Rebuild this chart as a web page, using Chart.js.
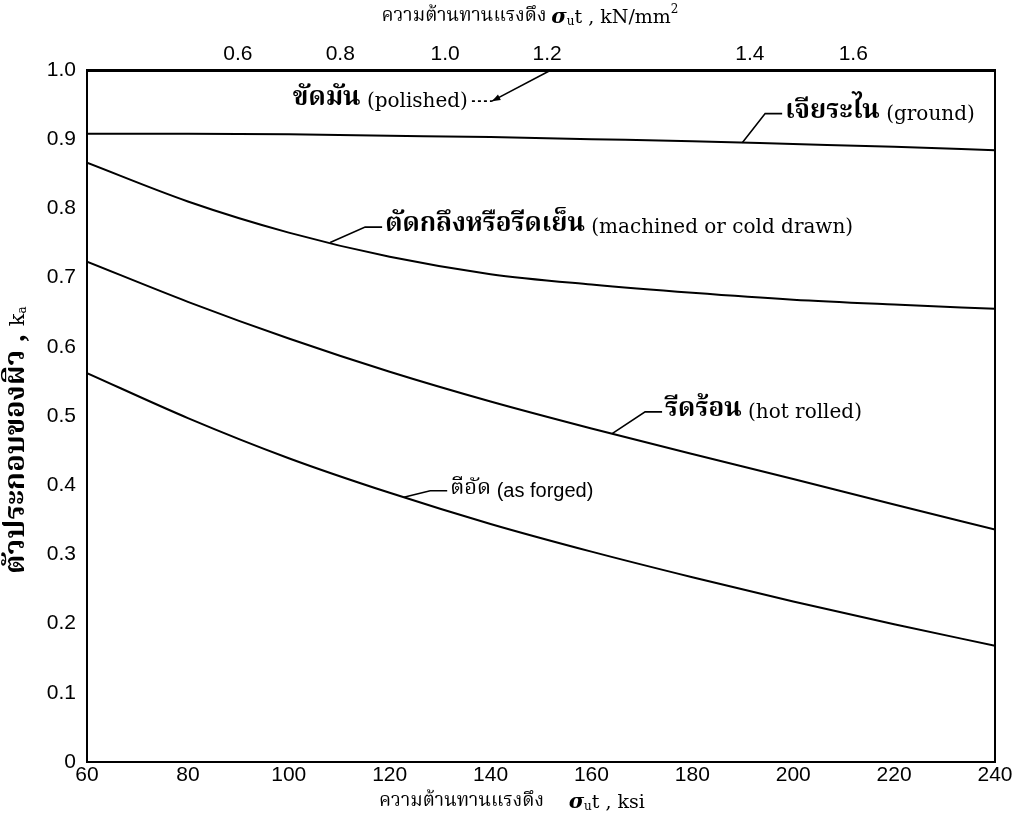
<!DOCTYPE html>
<html><head><meta charset="utf-8">
<style>html,body{margin:0;padding:0;background:#fff}</style>
<script src="https://cdn.jsdelivr.net/npm/chart.js@4/dist/chart.umd.min.js"></script>
</head><body>
<canvas id="c" width="1020" height="821"></canvas>
<script>
// ---- data ----
const ksi       = [60, 80, 100, 120, 140, 160, 180, 200, 220, 240];
const polished  = [1.0, 1.0, 1.0, 1.0, 1.0, 1.0, 1.0, 1.0, 1.0, 1.0];
const ground    = [0.908, 0.908, 0.907, 0.905, 0.903, 0.900, 0.897, 0.893, 0.889, 0.884];
const machined  = [0.866, 0.810, 0.765, 0.730, 0.705, 0.690, 0.678, 0.668, 0.661, 0.655];
const hotRolled = [0.723, 0.665, 0.612, 0.564, 0.521, 0.482, 0.445, 0.409, 0.372, 0.336];
const forged    = [0.562, 0.497, 0.439, 0.389, 0.344, 0.304, 0.267, 0.232, 0.199, 0.168];

const xTicks = [60, 80, 100, 120, 140, 160, 180, 200, 220, 240];
const xTickLabels = ['60', '80', '100', '120', '140', '160', '180', '200', '220', '240'];
const yTicks = [0, 0.1, 0.2, 0.3, 0.4, 0.5, 0.6, 0.7, 0.8, 0.9, 1.0];
const yTickLabels = ['0', '0.1', '0.2', '0.3', '0.4', '0.5', '0.6', '0.7', '0.8', '0.9', '1.0'];
// top axis (kN/mm²) labels as printed, at their ksi positions on the original figure
const topTickKsi = [89.9, 110.2, 131.0, 151.2, 191.4, 211.9];
const topTickLabels = ['0.6', '0.8', '1.0', '1.2', '1.4', '1.6'];

const thaiFont = "'Noto Serif Thai','Norasi','Garuda','Loma','Noto Sans Thai','DejaVu Sans',sans-serif";
const numFont = "'Liberation Sans', Arial, sans-serif";
const narrowFont = "'Liberation Sans Narrow','Arial Narrow','Liberation Sans',sans-serif";
const serifFont = "'DejaVu Serif','Liberation Serif',serif";

function pts(arr){ return ksi.map((x,i)=>({x:x, y:arr[i]})); }
function interp(arr, x){
  for (let i=0;i<ksi.length-1;i++){
    if (x>=ksi[i] && x<=ksi[i+1]){
      const t=(x-ksi[i])/(ksi[i+1]-ksi[i]);
      return arr[i]+t*(arr[i+1]-arr[i]);
    }
  }
  return arr[arr.length-1];
}

const boldThai = "bold 26px " + thaiFont, serifEn = "20px " + serifFont;
const notes = [
  {th:'เจียระไน', en:' (ground)',   tx:198.4, ty:0.937, hook:189.9, series:ground},
  {th:'ตัดกลึงหรือรีดเย็น', en:' (machined or cold drawn)', tx:119.1, ty:0.773, hook:108.2, series:machined},
  {th:'รีดร้อน', en:' (hot rolled)', tx:174.6, ty:0.506, hook:164.1, series:hotRolled},
  {th:'ตีอัด', en:' (as forged)', tx:132.0, ty:0.392, hook:122.8, series:forged,
    thFont:"22px "+thaiFont, enFont:"20px 'Liberation Sans',sans-serif"}
];
const polishedNote = {th:'ขัดมัน', en:' (polished)', tx:100.8, ty:0.955, hook:152.0};

// axis titles as mixed-font text runs
const sig = (sz)=>"bold italic "+sz+"px "+serifFont;
const titleTop = [
  {t:'ความต้านทานแรงดึง ', f:"19px "+thaiFont},
  {t:'σ', f:sig(21)}, {t:'u', f:"12px "+serifFont, dy:4},
  {t:'t , kN/mm', f:"19px "+serifFont}, {t:'2', f:"12px "+serifFont, dy:-8}
];
const titleBottom = [
  {t:'ความต้านทานแรงดึง     ', f:"19px "+thaiFont},
  {t:'σ', f:sig(21)}, {t:'u', f:"12px "+serifFont, dy:4},
  {t:'t , ksi', f:"19px "+serifFont}
];
const titleLeft = [
  {t:'ตัวประกอบของผิว , ', f:"bold 29px "+thaiFont},
  {t:'k', f:"21px "+serifFont}, {t:'a', f:"12px "+serifFont, dy:4}
];

function drawRuns(ctx, runs, cx, cy, rot){
  ctx.save();
  ctx.translate(cx, cy); if (rot) ctx.rotate(rot);
  ctx.textBaseline='middle'; ctx.textAlign='left'; ctx.fillStyle='#000';
  let total=0;
  runs.forEach(r=>{ ctx.font=r.f; r.w=ctx.measureText(r.t).width; total+=r.w; });
  let x=-total/2;
  runs.forEach(r=>{ ctx.font=r.f; ctx.fillText(r.t, x, r.dy||0); x+=r.w; });
  ctx.restore();
}

const titlesPlugin = {
  id:'titles',
  afterDraw(chart){
    const ctx = chart.ctx;
    drawRuns(ctx, titleTop, 530, 18);
    drawRuns(ctx, titleBottom, 512, 803);
    drawRuns(ctx, titleLeft, 19, 440, -Math.PI/2);
  }
};

const framePlugin = {
  id:'frame',
  afterDatasetsDraw(chart){
    const {ctx, chartArea:a} = chart;
    ctx.save();
    ctx.strokeStyle='#000'; ctx.lineWidth=2;
    ctx.strokeRect(a.left, a.top, a.right-a.left, a.bottom-a.top);
    ctx.restore();
  }
};

function drawLabel(ctx, n, x, y){
  ctx.textBaseline='middle'; ctx.textAlign='left';
  ctx.font = n.thFont || boldThai;
  ctx.fillText(n.th, x, y);
  const w = ctx.measureText(n.th).width;
  ctx.font = n.enFont || serifEn;
  ctx.fillText(n.en, x+w, y+1);
  return w + ctx.measureText(n.en).width;
}

const notesPlugin = {
  id:'notes',
  afterDatasetsDraw(chart){
    const {ctx, scales:{x, y}} = chart;
    ctx.save();
    ctx.fillStyle='#000'; ctx.strokeStyle='#000'; ctx.lineWidth=1.6;
    notes.forEach(n=>{
      const px = x.getPixelForValue(n.tx), py = y.getPixelForValue(n.ty);
      const hx = x.getPixelForValue(n.hook), hy = y.getPixelForValue(interp(n.series, n.hook));
      drawLabel(ctx, n, px, py);
      ctx.beginPath();
      ctx.moveTo(px-3, py); ctx.lineTo(px-20, py); ctx.lineTo(hx, hy);
      ctx.stroke();
    });
    const p = polishedNote;
    const px = x.getPixelForValue(p.tx), py = y.getPixelForValue(p.ty);
    const w = drawLabel(ctx, p, px, py);
    const hx = x.getPixelForValue(p.hook), hy = y.getPixelForValue(1.0);
    const sx = px + w + 24;
    ctx.setLineDash([3,3]);
    ctx.beginPath(); ctx.moveTo(px+w+4, py); ctx.lineTo(sx, py); ctx.stroke();
    ctx.setLineDash([]);
    ctx.beginPath(); ctx.moveTo(sx, py); ctx.lineTo(hx, hy); ctx.stroke();
    const ang = Math.atan2(hy-py, hx-sx);
    ctx.beginPath();
    ctx.moveTo(sx, py);
    ctx.lineTo(sx + 9*Math.cos(ang-0.35), py + 9*Math.sin(ang-0.35));
    ctx.lineTo(sx + 9*Math.cos(ang+0.35), py + 9*Math.sin(ang+0.35));
    ctx.closePath(); ctx.fill();
    ctx.restore();
  }
};

const lineDs = (label, arr, w) => ({label, data:pts(arr), borderColor:'#000', borderWidth:w,
  pointRadius:0, tension:0.4, cubicInterpolationMode:'monotone', fill:false});

new Chart(document.getElementById('c').getContext('2d'), {
  type:'line',
  data:{datasets:[
    lineDs('polished', polished, 3),
    lineDs('ground', ground, 2),
    lineDs('machined', machined, 2),
    lineDs('hot rolled', hotRolled, 2),
    lineDs('as forged', forged, 2)
  ]},
  options:{
    responsive:false, animation:false, devicePixelRatio:1,
    layout:{padding:{left:0, right:25, top:0, bottom:0}},
    plugins:{legend:{display:false}, tooltip:{enabled:false}},
    scales:{
      x:{type:'linear', position:'bottom', min:60, max:240,
        afterBuildTicks:s=>{ s.ticks = xTicks.map(v=>({value:v})); },
        ticks:{autoSkip:false, maxRotation:0, padding:1, color:'#000',
          font:{family:numFont, size:21},
          callback:(v)=>xTickLabels[xTicks.indexOf(v)]},
        grid:{display:false, drawTicks:false},
        border:{display:true, color:'#000', width:2},
        title:{display:false},
        afterFit:s=>{ s.height = 59; }
      },
      x2:{type:'linear', position:'top', min:60, max:240,
        afterBuildTicks:s=>{ s.ticks = topTickKsi.map(v=>({value:v})); },
        ticks:{autoSkip:false, maxRotation:0, padding:3, color:'#000',
          font:{family:narrowFont, size:21},
          callback:(v)=>{ const i = topTickKsi.indexOf(v); return i>=0 ? topTickLabels[i] : ''; }},
        grid:{display:false, drawTicks:false},
        border:{display:true, color:'#000', width:3},
        title:{display:false},
        afterFit:s=>{ s.height = 70; }
      },
      y:{type:'linear', position:'left', min:0, max:1,
        afterBuildTicks:s=>{ s.ticks = yTicks.map(v=>({value:v})); },
        ticks:{autoSkip:false, padding:11, color:'#000',
          font:{family:numFont, size:21},
          callback:(v)=>{ const i = yTicks.findIndex(t=>Math.abs(t-v)<1e-9); return yTickLabels[i]; }},
        grid:{display:false, drawTicks:false},
        border:{display:true, color:'#000', width:2},
        title:{display:false},
        afterFit:s=>{ s.width = 87; }
      }
    }
  },
  plugins:[framePlugin, notesPlugin, titlesPlugin]
});
</script>
</body></html>
